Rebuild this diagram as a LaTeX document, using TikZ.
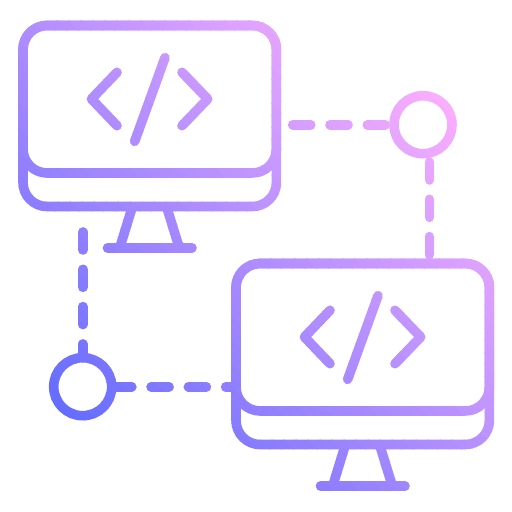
\documentclass[tikz,border=0pt]{standalone}
\usepackage{tikz}
\usetikzlibrary{positioning}
\definecolor{iconlow}{RGB}{100,108,255}
\definecolor{iconhigh}{RGB}{255,176,255}
\tikzset{
  iconline/.style={draw=iconcol,line width=9.6pt,line cap=round,line join=round},
  monframe/.style={iconline,rectangle,rounded corners=24pt,minimum width=253.4pt,inner sep=0pt,outer sep=0pt},
  port/.style={iconline,circle,minimum size=58pt,inner sep=0pt,outer sep=0pt},
  link/.style={iconline,dash pattern=on 18pt off 19.3pt}
}
\newcommand{\monitor}[3]{%
\begin{scope}[shift={(#2,#3)}]
\node[monframe,minimum height=181pt] (#1) at (149.7,116) {};
\node[monframe,minimum height=147.5pt] (#1screen) at (149.7,99.2) {};
%stand
\draw[iconline] (132,208) -- (120,247);
\draw[iconline] (167,208) -- (179,247);
\draw[iconline] (107.5,248) -- (192,248);
%code sign
\draw[iconline] (117,72.3) -- (91.5,99) -- (117,125.7);
\draw[iconline] (182,72.3) -- (207.7,99) -- (182,125.7);
\draw[iconline] (165,57.7) -- (134.7,141.3);
\end{scope}}

\begin{document}
\begin{tikzpicture}[x=1pt,y=-1pt]
\useasboundingbox (0,0) rectangle (512,512);
%free ends
\coordinate (linkA) at (82.7,232);
\coordinate (linkB) at (292.7,124.7);
\coordinate (linkC) at (429.3,162);
%the gradient: one diagonal strip at a time
\foreach \u in {-360,-348,...,360}{
\pgfmathsetmacro{\p}{(\u+362)/7.24}
\colorlet{iconcol}{iconhigh!\p!iconlow}
\begin{scope}
\clip (\u-10,-10) -- (\u+522,522) -- (\u+535,522) -- (\u+3,-10) -- cycle;
%monitors
\monitor{monA}{0}{0}
\monitor{monB}{213}{238}
%ports
\node[port] (portA) at (82.7,386.7) {};
\node[port] (portB) at (423,124.7) {};
%links
\draw[link] (linkA) -- (portA.north);
\draw[link,dash phase=35.2pt] (portA.east) -- (portA.east -| monB.west);
\draw[link] (linkB) -- (portB.west);
\draw[link] (linkC) -- (linkC |- monB.north);
\end{scope}
}
\end{tikzpicture}
\end{document}
